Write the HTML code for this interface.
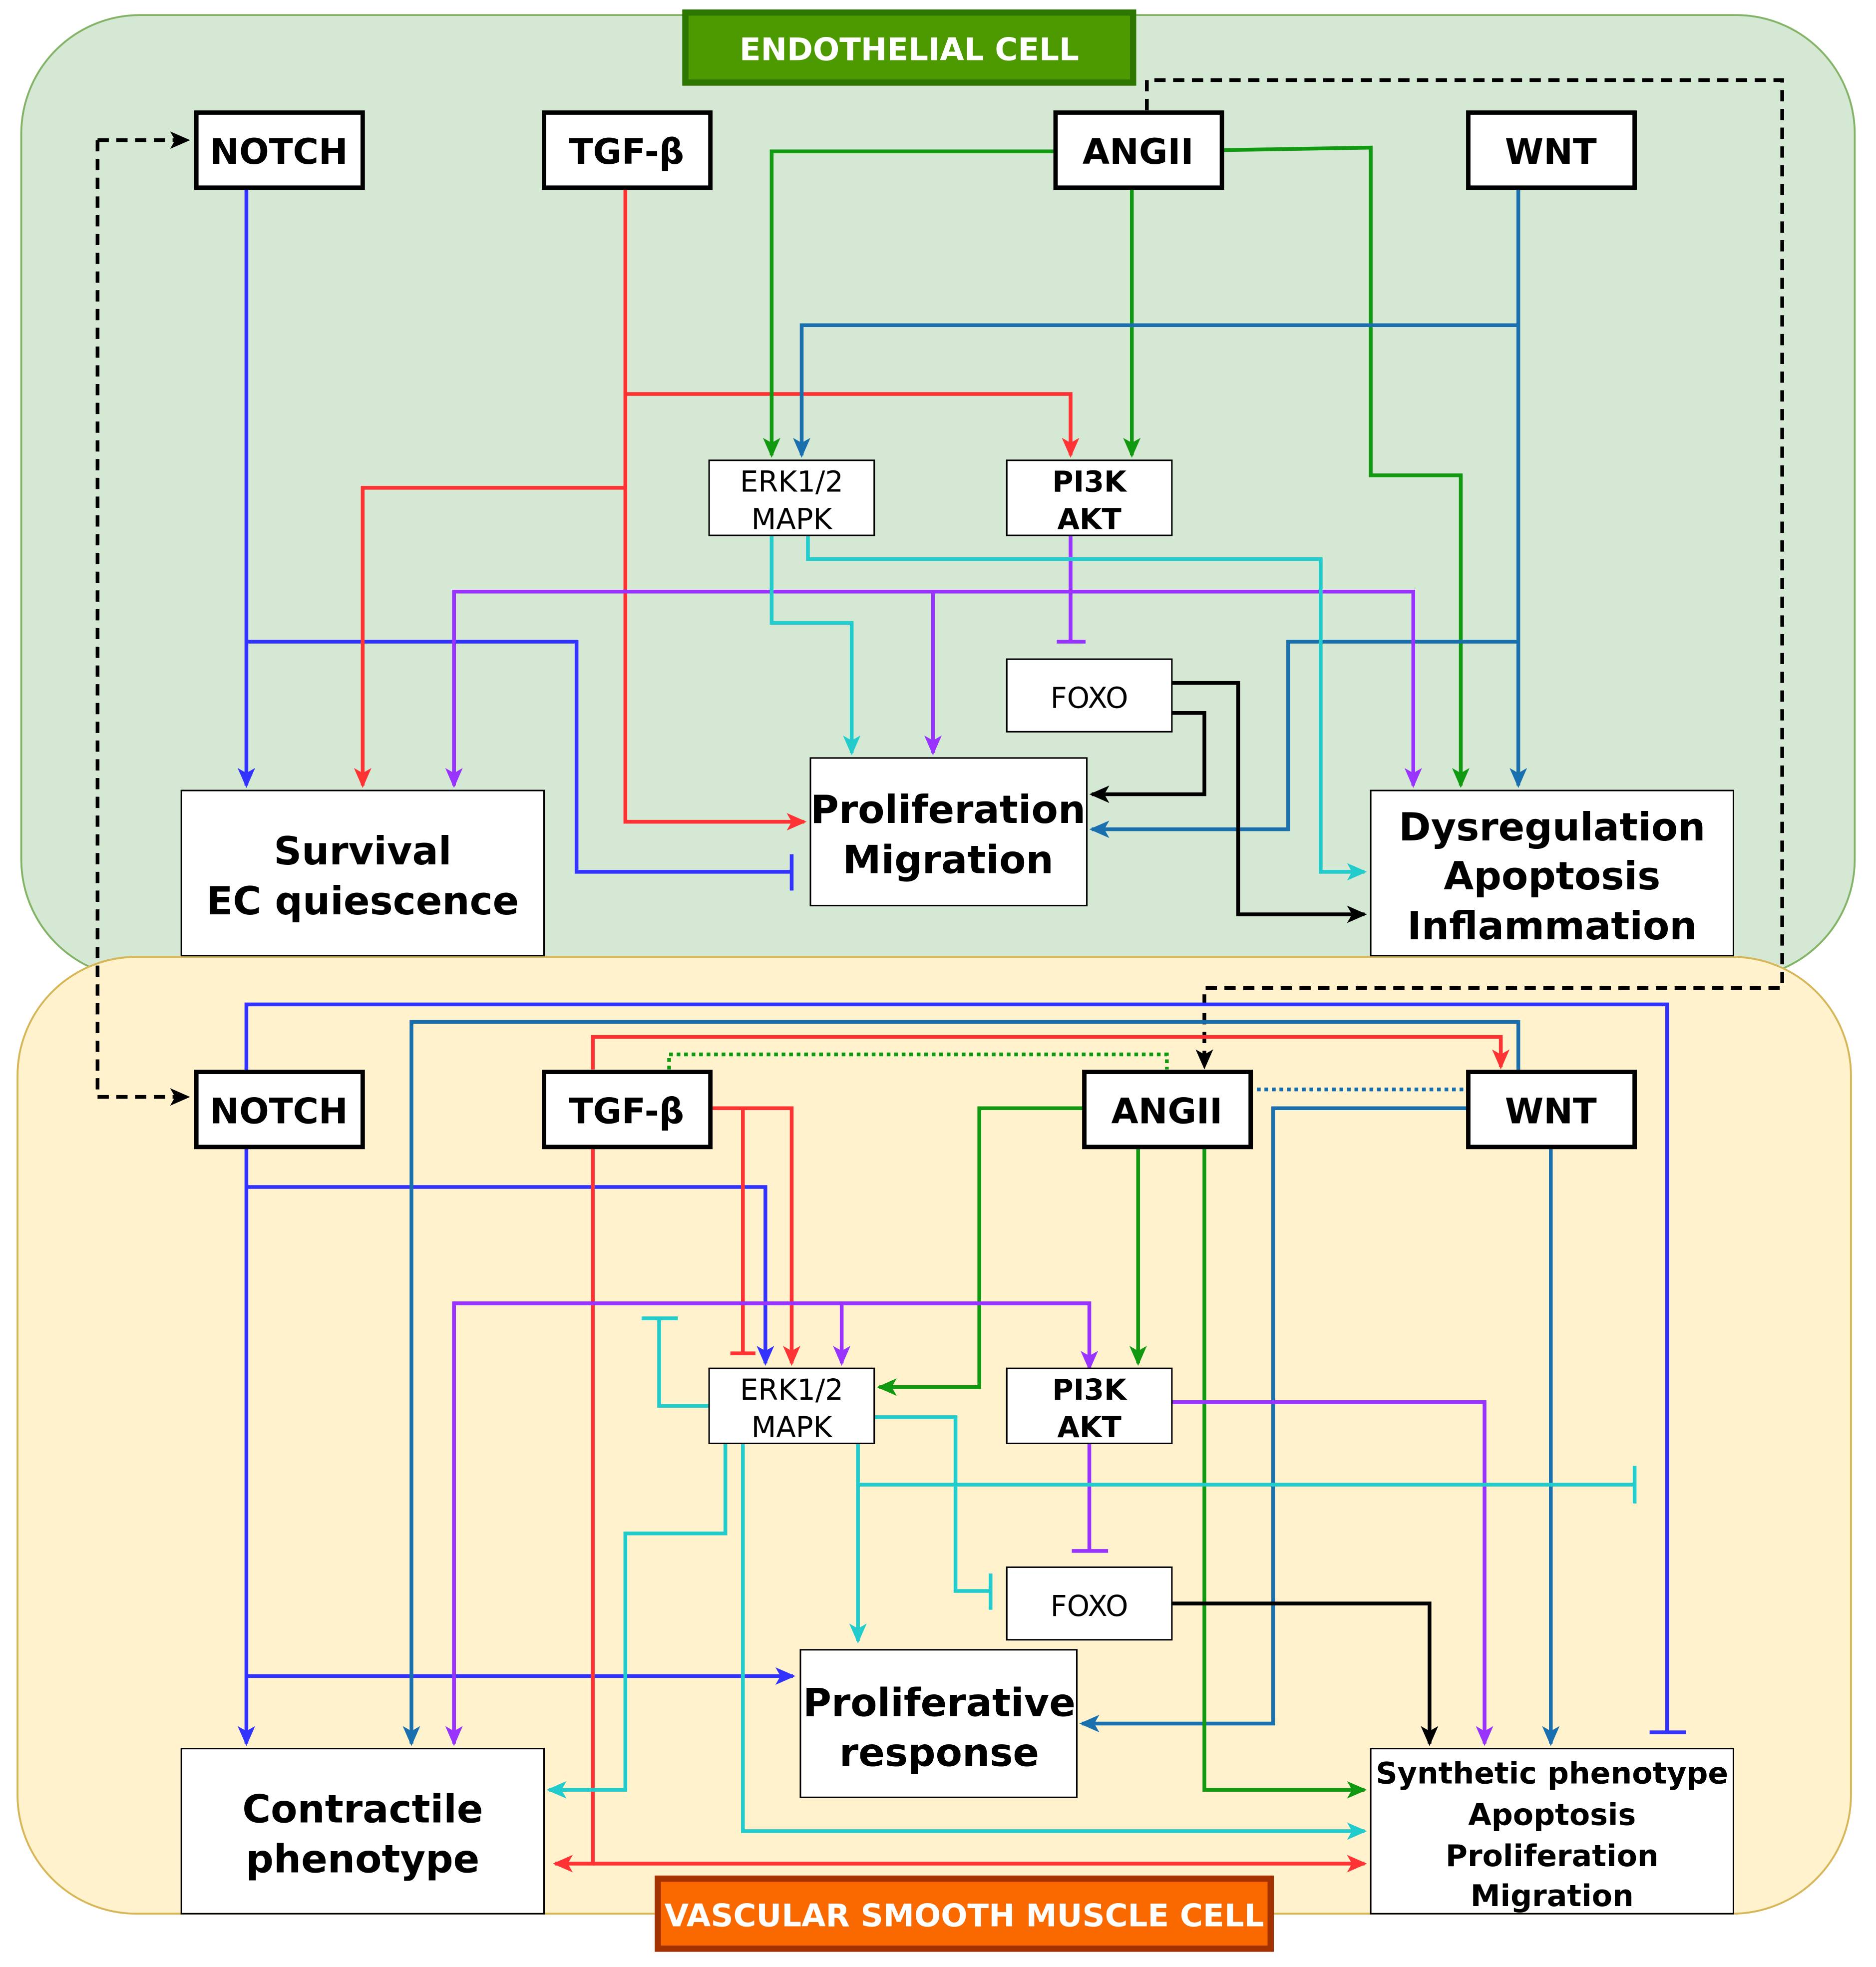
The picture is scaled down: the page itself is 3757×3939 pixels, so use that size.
<!DOCTYPE html>
<html><head><meta charset="utf-8"><style>
html,body{margin:0;padding:0;background:#fff}
svg{display:block}
text{font-family:"DejaVu Sans","Liberation Sans",sans-serif}
</style></head><body>
<svg width="3757" height="3939" viewBox="0 0 1500 1572.6" xmlns="http://www.w3.org/2000/svg">
<defs>
<marker id="aK" markerUnits="userSpaceOnUse" markerWidth="16" markerHeight="16" refX="14" refY="8" orient="auto"><path d="M0,1 L16,8 L0,15 L4,8z" fill="#000"/></marker>
<marker id="aB" markerUnits="userSpaceOnUse" markerWidth="16" markerHeight="16" refX="14" refY="8" orient="auto"><path d="M0,1 L16,8 L0,15 L4,8z" fill="#3333ff"/></marker>
<marker id="aR" markerUnits="userSpaceOnUse" markerWidth="16" markerHeight="16" refX="14" refY="8" orient="auto"><path d="M0,1 L16,8 L0,15 L4,8z" fill="#ff3333"/></marker>
<marker id="aG" markerUnits="userSpaceOnUse" markerWidth="16" markerHeight="16" refX="14" refY="8" orient="auto"><path d="M0,1 L16,8 L0,15 L4,8z" fill="#119911"/></marker>
<marker id="aW" markerUnits="userSpaceOnUse" markerWidth="16" markerHeight="16" refX="14" refY="8" orient="auto"><path d="M0,1 L16,8 L0,15 L4,8z" fill="#1a6faf"/></marker>
<marker id="aP" markerUnits="userSpaceOnUse" markerWidth="16" markerHeight="16" refX="14" refY="8" orient="auto"><path d="M0,1 L16,8 L0,15 L4,8z" fill="#9933ff"/></marker>
<marker id="aC" markerUnits="userSpaceOnUse" markerWidth="16" markerHeight="16" refX="14" refY="8" orient="auto"><path d="M0,1 L16,8 L0,15 L4,8z" fill="#22cccc"/></marker>
</defs>
<rect x="17" y="12" width="1466" height="770" rx="95" fill="#d5e8d4" stroke="#82b366" stroke-width="1.5"/>
<rect x="14" y="765" width="1466" height="765" rx="95" fill="#fff2cc" stroke="#d6b656" stroke-width="1.5"/>

<g fill="none" stroke-width="3">
<!-- dashed -->
<path d="M78,112 L78,877 L150,877" stroke="#000" stroke-dasharray="9,6" marker-end="url(#aK)"/>
<path d="M78,112 L150,112" stroke="#000" stroke-dasharray="9,6" marker-end="url(#aK)"/>
<path d="M917,88 L917,64 L1425,64 L1425,790 L963,790 L963,853" stroke="#000" stroke-dasharray="9,6" marker-end="url(#aK)"/>

<!-- TOP -->
<path d="M197,150 L197,628" stroke="#3333ff" marker-end="url(#aB)"/>
<path d="M197,513 L461,513 L461,697 L633,697 M633,683 L633,712" stroke="#3333ff"/>
<path d="M500,150 L500,657 L643,657" stroke="#ff3333" marker-end="url(#aR)"/>
<path d="M500,315 L856,315 L856,364" stroke="#ff3333" marker-end="url(#aR)"/>
<path d="M500,390 L290,390 L290,628" stroke="#ff3333" marker-end="url(#aR)"/>
<path d="M844,121 L617,121 L617,364" stroke="#119911" marker-end="url(#aG)"/>
<path d="M905,150 L905,364" stroke="#119911" marker-end="url(#aG)"/>
<path d="M977,120 L1096,118 L1096,380 L1168,380 L1168,628" stroke="#119911" marker-end="url(#aG)"/>
<path d="M1214,150 L1214,628" stroke="#1a6faf" marker-end="url(#aW)"/>
<path d="M1214,260 L641,260 L641,364" stroke="#1a6faf" marker-end="url(#aW)"/>
<path d="M1214,513 L1030,513 L1030,663 L873,663" stroke="#1a6faf" marker-end="url(#aW)"/>
<path d="M363,628 L363,473 L1130,473 L1130,628" stroke="#9933ff" marker-end="url(#aP)"/>
<path d="M363,473 L363,628" stroke="#9933ff" marker-end="url(#aP)"/>
<path d="M746,473 L746,602" stroke="#9933ff" marker-end="url(#aP)"/>
<path d="M856,428 L856,513 M845,513 L868,513" stroke="#9933ff"/>
<path d="M617,428 L617,498 L681,498 L681,602" stroke="#22cccc" marker-end="url(#aC)"/>
<path d="M646,428 L646,447 L1056,447 L1056,697 L1091,697" stroke="#22cccc" marker-end="url(#aC)"/>
<path d="M937,546 L990,546 L990,731 L1091,731" stroke="#000" marker-end="url(#aK)"/>
<path d="M937,570 L963,570 L963,635 L873,635" stroke="#000" marker-end="url(#aK)"/>

<!-- BOTTOM -->
<path d="M197,917 L197,1394" stroke="#3333ff" marker-end="url(#aB)"/>
<path d="M197,949 L612,949 L612,1090" stroke="#3333ff" marker-end="url(#aB)"/>
<path d="M197,1340 L634,1340" stroke="#3333ff" marker-end="url(#aB)"/>
<path d="M197,857 L197,803 L1333,803 L1333,1385 M1319,1385 L1348,1385" stroke="#3333ff"/>
<path d="M1214,857 L1214,817 L329,817 L329,1394" stroke="#1a6faf" marker-end="url(#aW)"/>
<path d="M1240,917 L1240,1394" stroke="#1a6faf" marker-end="url(#aW)"/>
<path d="M1174,886 L1018,886 L1018,1378 L865,1378" stroke="#1a6faf" marker-end="url(#aW)"/>
<path d="M474,855 L474,829 L1200,829 L1200,853" stroke="#ff3333" marker-end="url(#aR)"/>
<path d="M474,917 L474,1490 L444,1490" stroke="#ff3333" marker-end="url(#aR)"/>
<path d="M474,1490 L1091,1490" stroke="#ff3333" marker-end="url(#aR)"/>
<path d="M568,886 L633,886 L633,1090" stroke="#ff3333" marker-end="url(#aR)"/>
<path d="M594,886 L594,1082 M584,1082 L604,1082" stroke="#ff3333"/>
<path d="M535,855 L535,843 L933,843 L933,855" stroke="#119911" stroke-dasharray="3,3"/>
<path d="M1005,871 L1172,871" stroke="#1a6faf" stroke-dasharray="3,3"/>
<path d="M867,886 L783,886 L783,1109 L703,1109" stroke="#119911" marker-end="url(#aG)"/>
<path d="M910,917 L910,1090" stroke="#119911" marker-end="url(#aG)"/>
<path d="M963,917 L963,1431 L1091,1431" stroke="#119911" marker-end="url(#aG)"/>
<path d="M363,1394 L363,1042 L871,1042 L871,1094" stroke="#9933ff" marker-end="url(#aP)"/>
<path d="M363,1042 L363,1394" stroke="#9933ff" marker-end="url(#aP)"/>
<path d="M673,1042 L673,1090" stroke="#9933ff" marker-end="url(#aP)"/>
<path d="M871,1153 L871,1240 M857,1240 L886,1240" stroke="#9933ff"/>
<path d="M937,1121 L1187,1121 L1187,1394" stroke="#9933ff" marker-end="url(#aP)"/>
<path d="M567,1124 L527,1124 L527,1054 M513,1054 L542,1054" stroke="#22cccc"/>
<path d="M699,1133 L764,1133 L764,1272 L792,1272 M792,1258 L792,1287" stroke="#22cccc"/>
<path d="M686,1153 L686,1312" stroke="#22cccc" marker-end="url(#aC)"/>
<path d="M686,1187 L1307,1187 M1307,1172 L1307,1202" stroke="#22cccc"/>
<path d="M580,1153 L580,1226 L500,1226 L500,1431 L439,1431" stroke="#22cccc" marker-end="url(#aC)"/>
<path d="M594,1153 L594,1464 L1091,1464" stroke="#22cccc" marker-end="url(#aC)"/>
<path d="M937,1282 L1143,1282 L1143,1394" stroke="#000" marker-end="url(#aK)"/>
</g>

<!-- headers -->
<rect x="548" y="10" width="358" height="56" fill="#4d9900" stroke="#2d7600" stroke-width="5"/>
<text x="727" y="48" text-anchor="middle" font-size="25" font-weight="bold" fill="#fff">ENDOTHELIAL CELL</text>
<rect x="526" y="1502" width="490" height="56" fill="#fa6800" stroke="#a33200" stroke-width="5"/>
<text x="771" y="1540" text-anchor="middle" font-size="25" font-weight="bold" fill="#fff">VASCULAR SMOOTH MUSCLE CELL</text>

<g fill="#fff" stroke="#000" stroke-width="3.5">
<rect x="157" y="90" width="133" height="60"/><rect x="435" y="90" width="133" height="60"/>
<rect x="844" y="90" width="133" height="60"/><rect x="1174" y="90" width="133" height="60"/>
<rect x="157" y="857" width="133" height="60"/><rect x="435" y="857" width="133" height="60"/>
<rect x="867" y="857" width="133" height="60"/><rect x="1174" y="857" width="133" height="60"/>
</g>
<g fill="#fff" stroke="#000" stroke-width="1.2">
<rect x="567" y="368" width="132" height="60"/><rect x="805" y="368" width="132" height="60"/><rect x="805" y="527" width="132" height="58"/>
<rect x="145" y="632" width="290" height="132"/><rect x="648" y="606" width="221" height="118"/><rect x="1096" y="632" width="290" height="132"/>
<rect x="567" y="1094" width="132" height="60"/><rect x="805" y="1094" width="132" height="60"/><rect x="805" y="1253" width="132" height="58"/>
<rect x="145" y="1398" width="290" height="132"/><rect x="640" y="1319" width="221" height="118"/><rect x="1096" y="1398" width="290" height="132"/>
</g>

<g font-size="28" font-weight="bold" text-anchor="middle">
<text x="223" y="131">NOTCH</text><text x="501" y="131">TGF-β</text><text x="910" y="131">ANGII</text><text x="1240" y="131">WNT</text>
<text x="223" y="898">NOTCH</text><text x="501" y="898">TGF-β</text><text x="933" y="898">ANGII</text><text x="1240" y="898">WNT</text>
</g>
<g font-size="23" text-anchor="middle">
<text x="633" y="393">ERK1/2</text><text x="633" y="423">MAPK</text>
<text x="871" y="566">FOXO</text>
<text x="633" y="1119">ERK1/2</text><text x="633" y="1149">MAPK</text>
<text x="871" y="1292">FOXO</text>
<text font-weight="bold" x="871" y="393">PI3K</text><text font-weight="bold" x="871" y="423">AKT</text>
<text font-weight="bold" x="871" y="1119">PI3K</text><text font-weight="bold" x="871" y="1149">AKT</text>
</g>
<g font-size="31" font-weight="bold" text-anchor="middle">
<text x="290" y="691">Survival</text><text x="290" y="731">EC quiescence</text>
<text x="758" y="658">Proliferation</text><text x="758" y="698">Migration</text>
<text x="1241" y="672">Dysregulation</text><text x="1241" y="711">Apoptosis</text><text x="1241" y="751">Inflammation</text>
<text x="290" y="1457">Contractile</text><text x="290" y="1497">phenotype</text>
<text x="751" y="1372">Proliferative</text><text x="751" y="1412">response</text>
</g>
<g font-size="24" font-weight="bold" text-anchor="middle">
<text x="1241" y="1426">Synthetic phenotype</text><text x="1241" y="1459">Apoptosis</text>
<text x="1241" y="1492">Proliferation</text><text x="1241" y="1524">Migration</text>
</g>
</svg>
</body></html>
